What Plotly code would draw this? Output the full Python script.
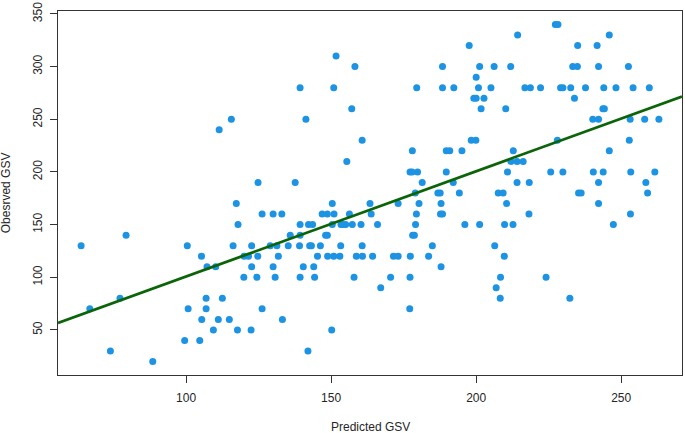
import plotly.graph_objects as go

# Predicted GSV (x) and Observed GSV (y), grouped by observed value rows
predicted_gsv = [
    227.3, 228.2,
    214.3, 245.9,
    197.6, 235.0, 241.7,
    151.7,
    158.2, 188.4, 201.2, 206.2, 211.9, 233.3, 234.9, 242.2, 252.5,
    200.0,
    139.3, 150.9, 179.5, 188.4, 192.3, 200.8, 205.1, 216.8, 218.7, 222.2, 229.1, 229.9, 232.6, 237.7, 244.0, 248.2, 254.1, 259.7,
    199.2, 200.0, 202.7, 233.9,
    157.1, 201.7, 210.2, 243.7, 244.2,
    115.6, 141.3, 240.2, 242.2, 253.1, 258.1, 263.0,
    111.4,
    160.7, 198.3, 199.9, 228.0, 252.8,
    178.0, 189.7, 190.9, 195.1, 212.8, 245.9,
    155.4, 212.0, 214.1, 216.2,
    177.2, 177.9, 179.8, 189.7, 210.8, 225.7, 229.9, 240.4, 243.8, 253.3, 261.6,
    124.8, 137.6, 181.4, 192.1, 214.1, 218.3, 242.2, 258.5,
    179.0, 186.8, 187.6, 194.2, 207.6, 209.3, 235.3, 236.2, 259.1,
    117.3, 150.4, 163.4, 173.1, 180.3, 187.9, 210.5, 242.2,
    126.2, 130.0, 133.0, 146.9, 148.7, 151.0, 156.3, 163.8, 179.4, 187.7, 188.4, 218.2, 253.2,
    117.9, 139.3, 142.2, 143.6, 150.4, 153.4, 154.1, 155.0, 157.3, 160.3, 166.0, 179.1, 196.1, 201.2, 209.8, 212.7, 247.3,
    79.3, 135.9, 139.3, 148.1, 148.7, 178.1, 178.7,
    63.8, 100.4, 116.2, 122.6, 129.0, 131.3, 135.2, 139.1, 142.6, 143.2, 146.3, 153.3, 160.7, 184.9, 206.4,
    105.3, 120.0, 121.5, 124.7, 131.8, 145.3, 148.8, 150.9, 153.0, 158.7, 160.8, 164.3, 171.5, 173.1, 177.3, 183.6, 209.7,
    107.2, 110.2, 122.6, 130.0, 140.4, 144.0, 187.9,
    119.9, 124.4, 130.7, 139.3, 144.3, 157.9, 170.5, 177.2, 208.4, 224.1,
    167.1, 206.9,
    77.2, 106.9, 112.5, 208.3, 232.3,
    66.8, 100.7, 106.9, 126.2, 177.1,
    105.4, 111.1, 114.9, 133.2,
    109.4, 117.7, 122.4, 150.2,
    99.5, 104.7,
    73.9, 142.0,
    88.5,
]

observed_gsv = [
    340, 340,
    330, 330,
    320, 320, 320,
    310,
    300, 300, 300, 300, 300, 300, 300, 300, 300,
    290,
    280, 280, 280, 280, 280, 280, 280, 280, 280, 280, 280, 280, 280, 280, 280, 280, 280, 280,
    270, 270, 270, 270,
    260, 260, 260, 260, 260,
    250, 250, 250, 250, 250, 250, 250,
    240,
    230, 230, 230, 230, 230,
    220, 220, 220, 220, 220, 220,
    210, 210, 210, 210,
    200, 200, 200, 200, 200, 200, 200, 200, 200, 200, 200,
    190, 190, 190, 190, 190, 190, 190, 190,
    180, 180, 180, 180, 180, 180, 180, 180, 180,
    170, 170, 170, 170, 170, 170, 170, 170,
    160, 160, 160, 160, 160, 160, 160, 160, 160, 160, 160, 160, 160,
    150, 150, 150, 150, 150, 150, 150, 150, 150, 150, 150, 150, 150, 150, 150, 150, 150,
    140, 140, 140, 140, 140, 140, 140,
    130, 130, 130, 130, 130, 130, 130, 130, 130, 130, 130, 130, 130, 130, 130,
    120, 120, 120, 120, 120, 120, 120, 120, 120, 120, 120, 120, 120, 120, 120, 120, 120,
    110, 110, 110, 110, 110, 110, 110,
    100, 100, 100, 100, 100, 100, 100, 100, 100, 100,
    90, 90,
    80, 80, 80, 80, 80,
    70, 70, 70, 70, 70,
    60, 60, 60, 60,
    50, 50, 50, 50,
    40, 40,
    30, 30,
    20,
]

x_ticks = [100, 150, 200, 250]
y_ticks = [50, 100, 150, 200, 250, 300, 350]

fit_intercept = 0.7
fit_slope = 1.0

x_title = "Predicted GSV"
y_title = "Obesrved GSV"

# R-style 4% axis expansion
xmin, xmax = min(predicted_gsv), max(predicted_gsv)
ymin, ymax = min(observed_gsv), max(observed_gsv)
xr = [xmin - 0.04 * (xmax - xmin), xmax + 0.04 * (xmax - xmin)]
yr = [ymin - 0.04 * (ymax - ymin), ymax + 0.04 * (ymax - ymin)]

line_x = xr
line_y = [fit_intercept + fit_slope * v for v in line_x]

FONT = "Liberation Sans, Arial, sans-serif"

fig = go.Figure()
fig.add_trace(go.Scatter(
    x=predicted_gsv, y=observed_gsv, mode="markers",
    marker=dict(color="#1C93E3", size=7, line=dict(width=0)),
    showlegend=False, hoverinfo="x+y",
))
fig.add_trace(go.Scatter(
    x=line_x, y=line_y, mode="lines",
    line=dict(color="#0B6407", width=2.8),
    showlegend=False, hoverinfo="skip",
))

axis_common = dict(
    showgrid=False, zeroline=False, showline=True, mirror=True,
    linecolor="#333333", linewidth=1.4,
    ticks="outside", ticklen=7, tickwidth=1.2, tickcolor="#333333",
    tickfont=dict(family=FONT, size=12, color="#262626"),
    ticklabeloverflow="allow",
)

fig.update_layout(
    width=685, height=433,
    margin=dict(l=58, r=2, t=7, b=58, pad=0),
    paper_bgcolor="white", plot_bgcolor="white",
    font=dict(family=FONT, size=12, color="#262626"),
    xaxis=dict(range=xr, tickvals=x_ticks, ticktext=[str(v) for v in x_ticks],
               ticklabelstandoff=4, **axis_common),
    yaxis=dict(range=yr, tickvals=y_ticks, ticktext=[str(v) for v in y_ticks],
               tickangle=-90, ticklabelstandoff=3, **axis_common),
    annotations=[
        dict(text=x_title, xref="paper", yref="paper", x=0.5, y=0,
             xanchor="center", yanchor="middle", yshift=-51.7, showarrow=False,
             font=dict(family=FONT, size=12, color="#262626")),
        dict(text=y_title, xref="paper", yref="paper", x=0, y=0.5,
             xanchor="center", yanchor="middle", xshift=-51.7, textangle=-90,
             showarrow=False, font=dict(family=FONT, size=12, color="#262626")),
    ],
)

fig.write_html(
    "out.html",
    config={"displayModeBar": False},
    post_script="document.body.style.margin='0';document.body.style.overflow='hidden';",
)
